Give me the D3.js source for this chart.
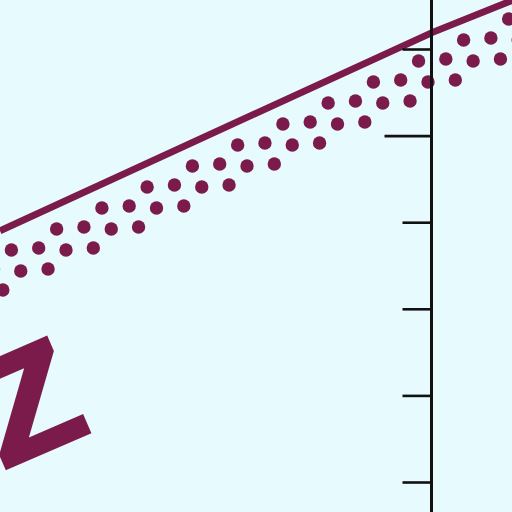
<!DOCTYPE html>
<html>
<head>
<meta charset="utf-8">
<script src="https://cdn.jsdelivr.net/npm/d3@7"></script>
<style>
html,body{margin:0;padding:0;background:#e7fafd;}
svg{display:block;}
</style>
</head>
<body>
<svg id="chart" width="512" height="512"></svg>
<script>
// ---- data ----
const years = [1860, 1880, 1884];
const solidValues = [390, 619, 659];
const dottedValues = [341, 572.5, 619];
const tickValues = [100, 200, 300, 400, 500, 600];
const majorTick = 500;
const labelText = "Z";

// ---- styles ----
const maroon = "#7b1b4c";
const bg = "#e7fafd";
const ink = "#111";

const svg = d3.select("#chart");
svg.append("rect").attr("width", 512).attr("height", 512).attr("fill", bg);

const x = d3.scaleLinear().domain([1860, 1880]).range([0, 432]);
const y = d3.scaleLinear().domain([0, 600]).range([568.6, 49]);

const solid = years.map((yr, i) => ({year: yr, v: solidValues[i]}));
const dotted = years.map((yr, i) => ({year: yr, v: dottedValues[i]}));

// dotted band: rows of 4 dots centred on the dotted series line
const pts = dotted.map(d => [x(d.year), y(d.v)]);
function xAtY(py) {
  let seg = pts.length - 2;
  if (py >= pts[1][1]) seg = 0;
  const a = pts[seg], b = pts[seg + 1];
  return a[0] + (py - a[1]) * (b[0] - a[0]) / (b[1] - a[1]);
}
const rowGap = 21, dotGap = 27.3, perRow = 4;
const dots = [];
for (let k = -1; k <= 16; k++) {
  const py = 18 + rowGap * k;
  const cx = xAtY(py);
  for (let j = 0; j < perRow; j++) {
    dots.push([cx + (j - (perRow - 1) / 2) * dotGap, py + (j % 2 === 0 ? 1 : -1)]);
  }
}
svg.append("g").selectAll("circle").data(dots).join("circle")
  .attr("cx", d => d[0]).attr("cy", d => d[1]).attr("r", 6.7)
  .attr("fill", maroon);

// solid series line
svg.append("path").datum(solid)
  .attr("d", d3.line().x(d => x(d.year)).y(d => y(d.v)))
  .attr("fill", "none").attr("stroke", maroon).attr("stroke-width", 6.8);

// axis
const axisX = 431.5;
const ax = svg.append("g").attr("transform", `translate(${axisX},0)`)
  .call(d3.axisLeft(y).tickValues(tickValues).tickSize(29).tickFormat(""));
ax.select(".domain").remove();
ax.selectAll(".tick line").attr("stroke", ink).attr("stroke-width", 2.6)
  .attr("x2", d => d === majorTick ? -47 : -29);
ax.append("line").attr("x1", 0).attr("x2", 0).attr("y1", 0).attr("y2", 512)
  .attr("stroke", ink).attr("stroke-width", 3);

// large rotated letter
svg.append("text")
  .attr("transform", "translate(97.5,430.6) rotate(-23.5)")
  .attr("text-anchor", "end")
  .attr("font-family", "DejaVu Sans")
  .attr("font-weight", "bold")
  .attr("font-size", 147)
  .attr("fill", maroon)
  .text(labelText);
</script>
</body>
</html>
